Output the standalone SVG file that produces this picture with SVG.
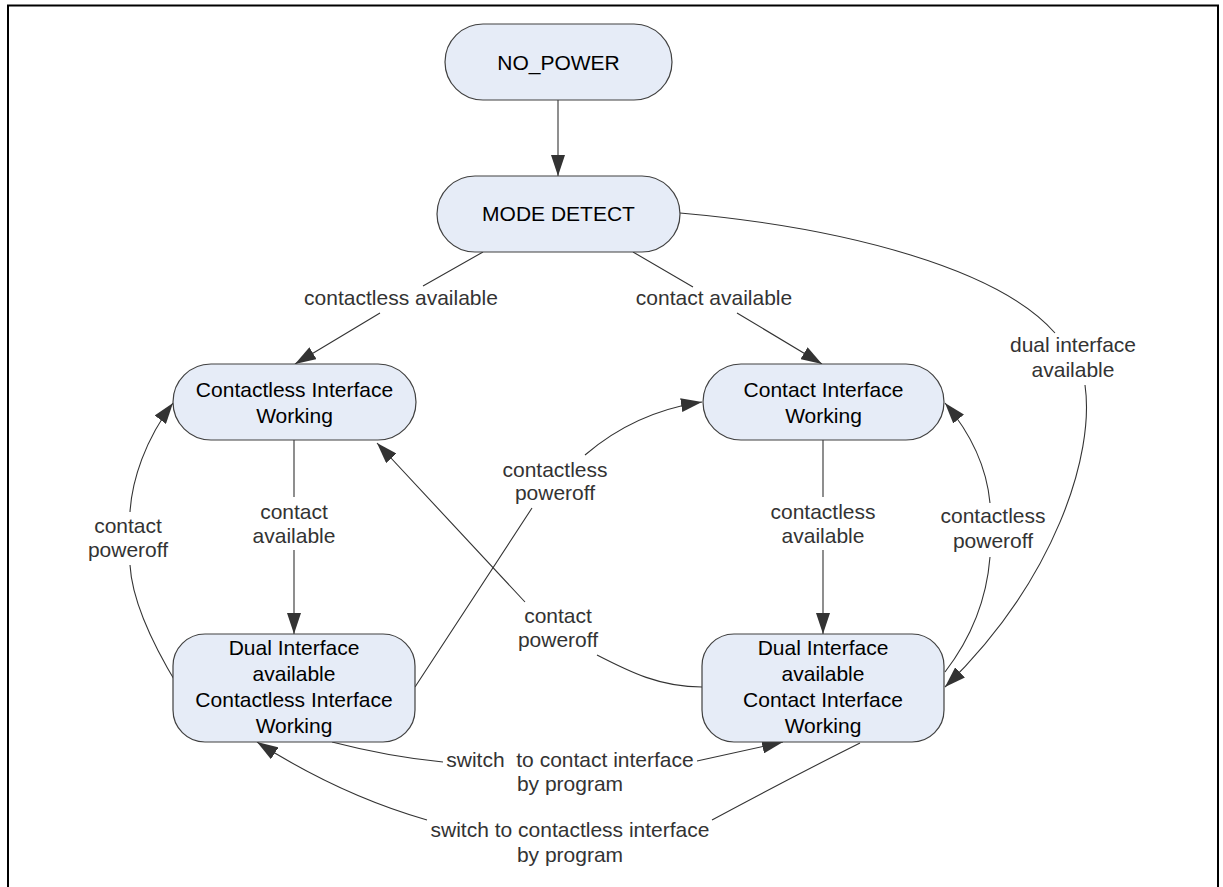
<svg xmlns="http://www.w3.org/2000/svg" width="1223" height="887" viewBox="0 0 1223 887">
<style>
.node rect{fill:#E6ECF7;stroke:#404040;stroke-width:1.2}
.node text{font-family:"Liberation Sans",Arial,sans-serif;font-size:21px;fill:#000;text-anchor:middle}
.lbl{font-family:"Liberation Sans",Arial,sans-serif;font-size:21px;fill:#333;text-anchor:middle}
.edge{fill:none;stroke:#333;stroke-width:1.1;marker-end:url(#ah)}
</style>
<defs>
<marker id="ah" markerUnits="userSpaceOnUse" markerWidth="22" markerHeight="14" refX="21" refY="7" orient="auto">
<path d="M0,0 L21,7 L0,14 z" fill="#333"/>
</marker>
</defs>
<rect x="8" y="5.5" width="1210" height="900" fill="#fff" stroke="#000" stroke-width="2"/>

<g id="connectors">
<path class="edge" d="M558,100 L558,176"/>
<path class="edge" d="M483,252 L423,286 M380,313 L295,364"/>
<path class="edge" d="M633,252 L693,287 M737,313 L822,364"/>
<path class="edge" d="M680,213 C850,228 1000,270 1055,333 M1085,385 C1095,455 1055,580 945,687"/>
<path class="edge" d="M294,440 L294,497 M294,550 L294,634"/>
<path class="edge" d="M823,440 L823,497 M823,550 L823,634"/>
<path class="edge" d="M178,686 C150,640 132,600 130,565 M130,512 C132,480 145,440 173,403"/>
<path class="edge" d="M415,687 L532,508 M585,455 Q635,412 702,402"/>
<path class="edge" d="M702,687 C660,687 630,672 597,655 M525,602 L377,443"/>
<path class="edge" d="M945,672 Q985,620 990,557 M990,503 Q985,450 945,403"/>
<path class="edge" d="M332,742 Q390,757 443,762 M697,761 L783,742"/>
<path class="edge" d="M860,743 Q790,778 712,820 M427,820 Q340,795 257,742"/>
</g>

<g id="labels">
<text class="lbl" x="401" y="305">contactless available</text>
<text class="lbl" x="714" y="305">contact available</text>
<text class="lbl" x="1073" y="352">dual interface</text>
<text class="lbl" x="1073" y="377">available</text>
<text class="lbl" x="294" y="519">contact</text>
<text class="lbl" x="294" y="543">available</text>
<text class="lbl" x="823" y="519">contactless</text>
<text class="lbl" x="823" y="543">available</text>
<text class="lbl" x="128" y="533">contact</text>
<text class="lbl" x="128" y="557">poweroff</text>
<text class="lbl" x="555" y="477">contactless</text>
<text class="lbl" x="555" y="500">poweroff</text>
<text class="lbl" x="558" y="623">contact</text>
<text class="lbl" x="558" y="647">poweroff</text>
<text class="lbl" x="993" y="523">contactless</text>
<text class="lbl" x="993" y="548">poweroff</text>
<text class="lbl" x="570" y="767" xml:space="preserve">switch  to contact interface</text>
<text class="lbl" x="570" y="791">by program</text>
<text class="lbl" x="570" y="837">switch to contactless interface</text>
<text class="lbl" x="570" y="862">by program</text>
</g>

<g id="no_power" class="node">
<rect x="445" y="24" width="227" height="76" rx="38"/>
<text x="558.5" y="69.5">NO_POWER</text>
</g>
<g id="mode_detect" class="node">
<rect x="437" y="176" width="243" height="76" rx="38"/>
<text x="558.5" y="221">MODE DETECT</text>
</g>
<g id="contactless_working" class="node">
<rect x="173" y="364" width="243" height="76" rx="38"/>
<text x="294.5" y="397">Contactless Interface</text>
<text x="294.5" y="423">Working</text>
</g>
<g id="contact_working" class="node">
<rect x="703" y="364" width="241" height="76" rx="38"/>
<text x="823.5" y="397">Contact Interface</text>
<text x="823.5" y="423">Working</text>
</g>
<g id="dual_contactless" class="node">
<rect x="173" y="634" width="242" height="108" rx="32"/>
<text x="294" y="655">Dual Interface</text>
<text x="294" y="681">available</text>
<text x="294" y="707">Contactless Interface</text>
<text x="294" y="733">Working</text>
</g>
<g id="dual_contact" class="node">
<rect x="702" y="634" width="242" height="108" rx="32"/>
<text x="823" y="655">Dual Interface</text>
<text x="823" y="681">available</text>
<text x="823" y="707">Contact Interface</text>
<text x="823" y="733">Working</text>
</g>
</svg>
